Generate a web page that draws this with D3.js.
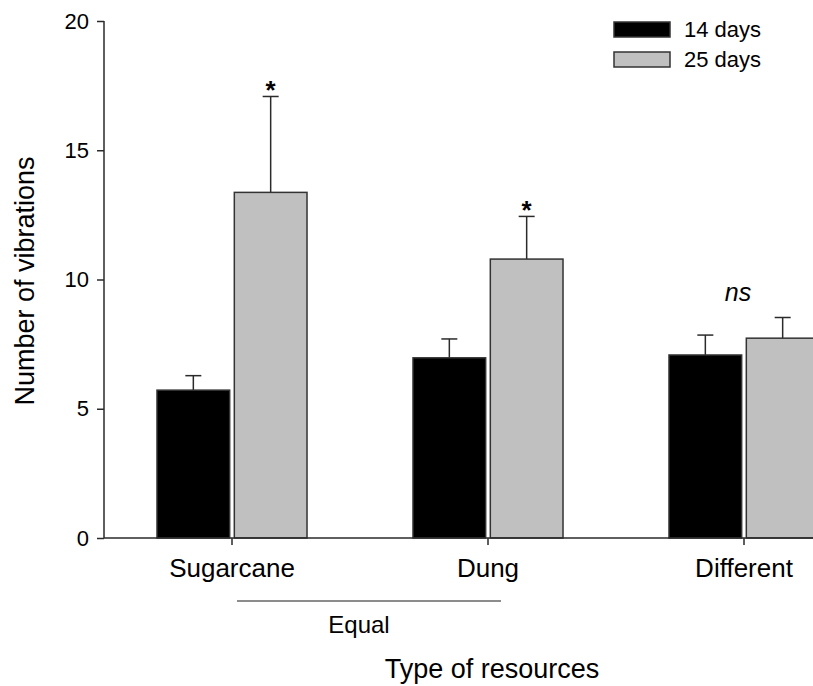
<!DOCTYPE html>
<html>
<head>
<meta charset="utf-8">
<script src="https://d3js.org/d3.v7.min.js"></script>
<style>
  body { margin: 0; background: #fff; }
  svg { display: block; font-family: "Liberation Sans", Arial, sans-serif; }
</style>
</head>
<body>
<svg id="chart" width="813" height="686"></svg>
<script>
"use strict";

// data
var categories = ["Sugarcane", "Dung", "Different"];
var seriesNames = ["14 days", "25 days"];
var means14 = [5.72, 6.97, 7.08];
var means25 = [13.37, 10.79, 7.73];
var se14 = [0.56, 0.73, 0.77];
var se25 = [3.71, 1.65, 0.80];
var signif = ["*", "*", "ns"];
var yTicks = [0, 5, 10, 15, 20];
var groupLabel = "Equal";
var groupMembers = ["Sugarcane", "Dung"];

var colors = { "14 days": "#000000", "25 days": "#c0c0c0" };
var axisColor = "#2a2a2a";

var svg = d3.select("#chart");

var y = d3.scaleLinear().domain([0, 20]).range([538, 21]);

var x0 = d3.scaleBand()
  .domain(categories)
  .range([104, 872])
  .paddingInner(0.414)
  .paddingOuter(0.207);

var x1 = d3.scaleBand()
  .domain(seriesNames)
  .range([0, x0.bandwidth()])
  .paddingInner(0.06);

var rows = categories.map(function(c, i){
  return {
    cat: c,
    sig: signif[i],
    bars: [
      { series: "14 days", value: means14[i], err: se14[i] },
      { series: "25 days", value: means25[i], err: se25[i] }
    ]
  };
});

// bars
var groups = svg.selectAll(".grp")
  .data(rows)
  .enter()
  .append("g")
  .attr("class", "grp")
  .attr("transform", function(d){ return "translate(" + x0(d.cat) + ",0)"; });

var bars = groups.selectAll(".bar")
  .data(function(d){ return d.bars; })
  .enter()
  .append("g")
  .attr("class", "bar");

// error bars (upper only) drawn first so bar outline sits on top
bars.append("line")
  .attr("x1", function(d){ return x1(d.series) + x1.bandwidth() / 2; })
  .attr("x2", function(d){ return x1(d.series) + x1.bandwidth() / 2; })
  .attr("y1", function(d){ return y(d.value); })
  .attr("y2", function(d){ return y(d.value + d.err); })
  .attr("stroke", axisColor)
  .attr("stroke-width", 1.5);

bars.append("line")
  .attr("x1", function(d){ return x1(d.series) + x1.bandwidth() / 2 - 8; })
  .attr("x2", function(d){ return x1(d.series) + x1.bandwidth() / 2 + 8; })
  .attr("y1", function(d){ return y(d.value + d.err); })
  .attr("y2", function(d){ return y(d.value + d.err); })
  .attr("stroke", axisColor)
  .attr("stroke-width", 1.5);

bars.append("rect")
  .attr("x", function(d){ return x1(d.series); })
  .attr("width", x1.bandwidth())
  .attr("y", function(d){ return y(d.value); })
  .attr("height", function(d){ return y(0) - y(d.value); })
  .attr("fill", function(d){ return colors[d.series]; })
  .attr("stroke", "#333")
  .attr("stroke-width", 1.5);

// significance marks
groups.append("text")
  .attr("x", function(d){
    if(d.sig === "ns") return x0.bandwidth() / 2 - 6;
    return x1("25 days") + x1.bandwidth() / 2;
  })
  .attr("y", function(d){
    var top = d3.max(d.bars, function(b){ return b.value + b.err; });
    return d.sig === "ns" ? y(top) - 16 : y(top) + 3;
  })
  .attr("text-anchor", "middle")
  .text(function(d){ return d.sig; })
  .each(function(d){
    var t = d3.select(this);
    if(d.sig === "ns"){
      t.attr("font-style", "italic").attr("font-size", 25);
    } else {
      t.attr("font-weight", "bold").attr("font-size", 26);
    }
  });

// y axis
var yAxis = d3.axisLeft(y).tickValues(yTicks).tickSize(7).tickPadding(8);
var yg = svg.append("g").attr("transform", "translate(104,0)").call(yAxis);
yg.select(".domain").attr("stroke", axisColor).attr("stroke-width", 1.5).attr("d", "M0," + y(20) + "V" + y(0));
yg.selectAll(".tick line").attr("stroke", axisColor).attr("stroke-width", 1.5);
yg.selectAll(".tick text").attr("font-size", 22).attr("fill", "#000").attr("font-family", "Liberation Sans, Arial, sans-serif");

// x axis
var xAxis = d3.axisBottom(x0).tickSize(7).tickPadding(14);
var xg = svg.append("g").attr("transform", "translate(0," + y(0) + ")").call(xAxis);
xg.select(".domain").attr("stroke", axisColor).attr("stroke-width", 1.5).attr("d", "M104,0H813");
xg.selectAll(".tick line").attr("stroke", axisColor).attr("stroke-width", 1.5);
xg.selectAll(".tick text").attr("font-size", 26).attr("fill", "#000").attr("font-family", "Liberation Sans, Arial, sans-serif");

// "Equal" grouping line under Sugarcane and Dung
var gx1 = x0(groupMembers[0]) + x0.bandwidth() / 2 + 5;
var gx2 = x0(groupMembers[1]) + x0.bandwidth() / 2 + 13;
svg.append("line")
  .attr("x1", gx1).attr("x2", gx2)
  .attr("y1", 601).attr("y2", 601)
  .attr("stroke", "#666")
  .attr("stroke-width", 1.3);
svg.append("text")
  .attr("x", (gx1 + gx2) / 2 - 10)
  .attr("y", 633)
  .attr("text-anchor", "middle")
  .attr("font-size", 24)
  .text(groupLabel);

// axis titles
svg.append("text")
  .attr("x", 492)
  .attr("y", 678)
  .attr("text-anchor", "middle")
  .attr("font-size", 27)
  .text("Type of resources");

svg.append("text")
  .attr("transform", "translate(34,281) rotate(-90)")
  .attr("text-anchor", "middle")
  .attr("font-size", 27)
  .text("Number of vibrations");

// legend
var legend = svg.append("g").attr("transform", "translate(614,22)");
var items = legend.selectAll(".item")
  .data(seriesNames)
  .enter()
  .append("g")
  .attr("class", "item")
  .attr("transform", function(d, i){ return "translate(0," + (i * 30) + ")"; });
items.append("rect")
  .attr("width", 56)
  .attr("height", 15)
  .attr("fill", function(d){ return colors[d]; })
  .attr("stroke", "#333")
  .attr("stroke-width", 1.5);
items.append("text")
  .attr("x", 70)
  .attr("y", 15)
  .attr("font-size", 22)
  .text(function(d){ return d; });
</script>
</body>
</html>
